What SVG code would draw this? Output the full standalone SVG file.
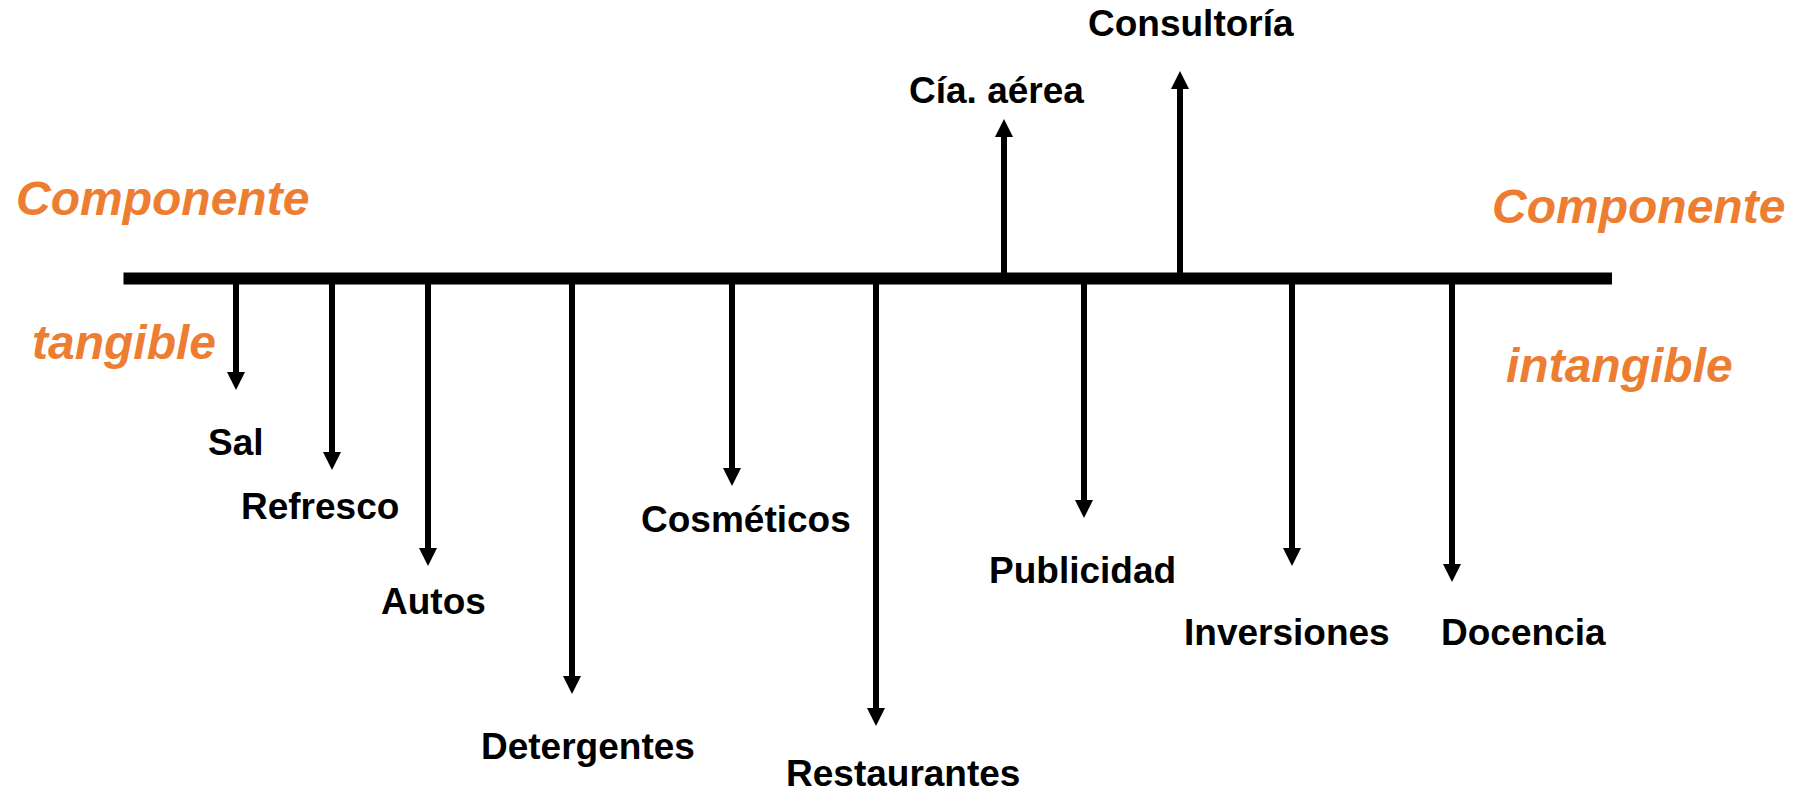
<svg xmlns="http://www.w3.org/2000/svg" width="1793" height="794" viewBox="0 0 1793 794">
<defs>
<style>
.lbl{font-family:"Liberation Sans",Arial,sans-serif;font-weight:bold;font-size:37px;fill:#000}
.cat{font-family:"Liberation Sans",Arial,sans-serif;font-weight:bold;font-style:italic;font-size:48px;fill:#ED7D31}
.arr{stroke:#000;stroke-width:6;fill:none;marker-end:url(#ah)}
</style>
<marker id="ah" markerUnits="userSpaceOnUse" markerWidth="18" markerHeight="18" viewBox="0 0 18 18" refX="0" refY="9" orient="auto">
<path d="M0,0 L18,9 L0,18 Z" fill="#000"/>
</marker>
</defs>
<rect width="1793" height="794" fill="#fff"/>
<g id="axis">
<rect x="123.5" y="272.5" width="1488.5" height="12" fill="#000"/>
</g>
<g id="connectors">
<line class="arr" x1="236" y1="284" x2="236" y2="372"/>
<line class="arr" x1="332" y1="284" x2="332" y2="452"/>
<line class="arr" x1="428" y1="284" x2="428" y2="548"/>
<line class="arr" x1="572" y1="284" x2="572" y2="676"/>
<line class="arr" x1="732" y1="284" x2="732" y2="468"/>
<line class="arr" x1="876" y1="284" x2="876" y2="708"/>
<line class="arr" x1="1084" y1="284" x2="1084" y2="500"/>
<line class="arr" x1="1292" y1="284" x2="1292" y2="548"/>
<line class="arr" x1="1452" y1="284" x2="1452" y2="564"/>
<line class="arr" x1="1004" y1="273" x2="1004" y2="137"/>
<line class="arr" x1="1180" y1="273" x2="1180" y2="89"/>
</g>
<g id="tangible"><text class="cat" x="16" y="215">Componente</text><text class="cat" x="32" y="359">tangible</text></g>
<g id="intangible"><text class="cat" x="1492" y="223">Componente</text><text class="cat" x="1506" y="382">intangible</text></g>
<g id="sal"><text class="lbl" x="208" y="455">Sal</text></g>
<g id="refresco"><text class="lbl" x="241" y="519">Refresco</text></g>
<g id="autos"><text class="lbl" x="381" y="614">Autos</text></g>
<g id="detergentes"><text class="lbl" x="481" y="759">Detergentes</text></g>
<g id="cosmeticos"><text class="lbl" x="641" y="532">Cosméticos</text></g>
<g id="restaurantes"><text class="lbl" x="786" y="786">Restaurantes</text></g>
<g id="publicidad"><text class="lbl" x="989" y="583">Publicidad</text></g>
<g id="inversiones"><text class="lbl" x="1184" y="645">Inversiones</text></g>
<g id="docencia"><text class="lbl" x="1441" y="645">Docencia</text></g>
<g id="cia-aerea"><text class="lbl" x="909" y="103">Cía. aérea</text></g>
<g id="consultoria"><text class="lbl" x="1088" y="36">Consultoría</text></g>
</svg>
